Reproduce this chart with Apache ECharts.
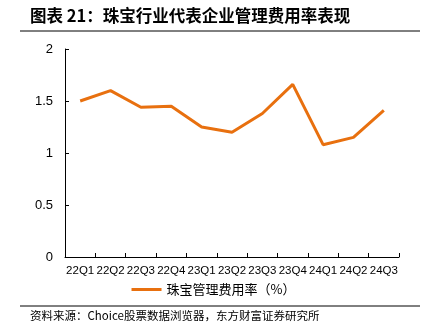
<!DOCTYPE html>
<html><head><meta charset="utf-8">
<script src="https://cdn.jsdelivr.net/npm/echarts@6/dist/echarts.min.js"></script>
<style>html,body{margin:0;padding:0;background:#fff}#c{width:427px;height:335px}</style>
</head><body><div id="c"></div>
<script>
const categories = ['22Q1','22Q2','22Q3','22Q4','23Q1','23Q2','23Q3','23Q4','24Q1','24Q2','24Q3'];
const mgmtRate = [1.50, 1.60, 1.44, 1.45, 1.25, 1.20, 1.38, 1.66, 1.08, 1.15, 1.41];
const yTicks = [0, 0.5, 1, 1.5, 2];
const seriesName = '珠宝管理费用率（%）';
const titleText = '图表 21：珠宝行业代表企业管理费用率表现';
const sourceText = '资料来源：Choice股票数据浏览器，东方财富证券研究所';

const chart = echarts.init(document.getElementById('c'));
chart.setOption({
  animation: false,
  textStyle: {fontFamily: 'Liberation Sans, Noto Sans CJK SC'},
  grid: {left: 65, right: 28, top: 49, bottom: 78},
  xAxis: {
    type: 'category', data: categories, boundaryGap: true,
    axisLine: {lineStyle: {color: '#000', width: 1}},
    axisTick: {show: true, inside: true, length: 4, lineStyle: {color: '#000'}},
    axisLabel: {color: '#000', fontSize: 11.5, margin: 8, interval: 0}
  },
  yAxis: {
    type: 'value', min: yTicks[0], max: yTicks[yTicks.length-1], interval: 0.5,
    axisLine: {show: true, lineStyle: {color: '#000', width: 1}},
    axisTick: {show: true, inside: true, length: 4, lineStyle: {color: '#000'}},
    splitLine: {show: false},
    axisLabel: {color: '#000', fontSize: 13, margin: 12}
  },
  legend: {
    data: [seriesName], bottom: 34, left: 'center',
    itemWidth: 30, itemHeight: 3, itemGap: 6,
    icon: 'rect',
    textStyle: {color: '#000', fontSize: 13, fontFamily: 'Noto Sans CJK SC'}
  },
  series: [{
    name: seriesName, type: 'line', data: mgmtRate,
    symbol: 'none',
    lineStyle: {color: '#E8700F', width: 3},
    itemStyle: {color: '#E8700F'}
  }],
  graphic: [
    {type: 'text', left: 30, top: 7, style: {text: titleText, font: 'bold 16.5px "Noto Sans CJK SC"', fill: '#000'}},
    {type: 'line', shape: {x1: 20, y1: 31, x2: 420, y2: 31}, style: {stroke: '#000', lineWidth: 1}},
    {type: 'line', shape: {x1: 20, y1: 306, x2: 420, y2: 306}, style: {stroke: '#000', lineWidth: 1}},
    {type: 'text', left: 30, top: 310, style: {text: sourceText, font: '11.5px "Noto Sans CJK SC"', fill: '#000'}}
  ]
});
</script></body></html>
